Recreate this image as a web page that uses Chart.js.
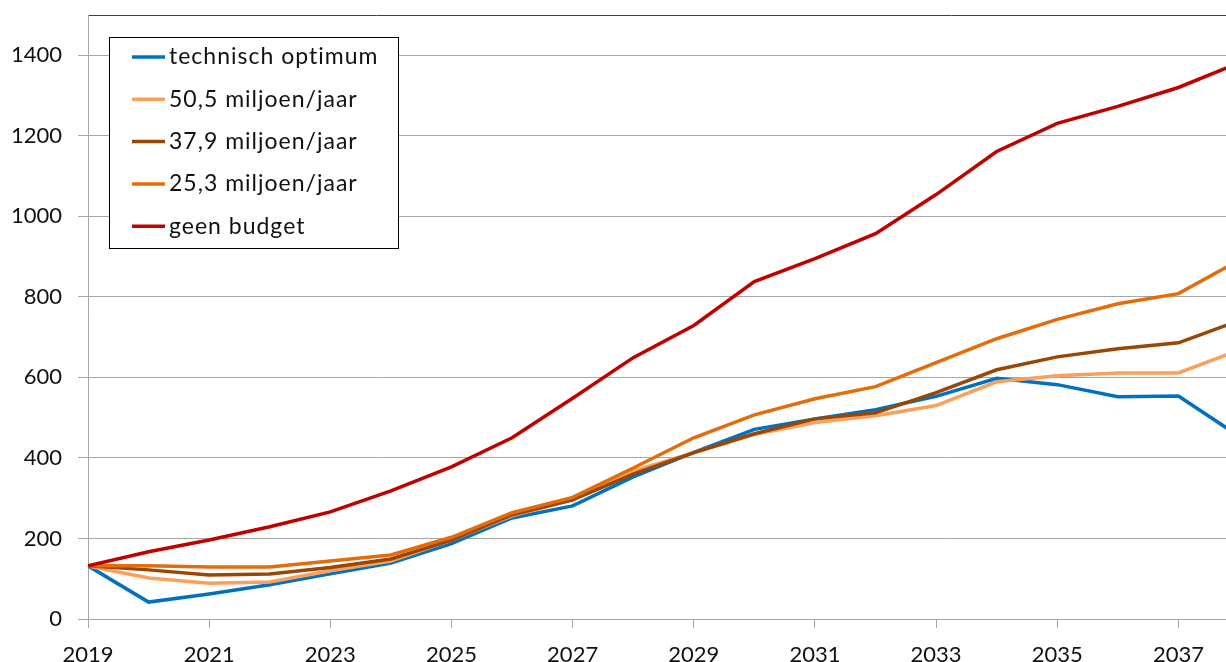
<!DOCTYPE html>
<html>
<head>
<meta charset="utf-8">
<script src="https://cdn.jsdelivr.net/npm/chart.js@4.4.0/dist/chart.umd.min.js"></script>
<style>
	html, body { margin: 0; padding: 0; background: #fff; overflow: hidden; }
	#wrap { position: absolute; left: 0; top: 0; width: 1300px; height: 662px; }
</style>
</head>
<body>
<div id="wrap"><canvas id="chart" width="1300" height="662"></canvas></div>
<script>
// jaren op de x-as
const years = [2019, 2020, 2021, 2022, 2023, 2024, 2025, 2026, 2027, 2028, 2029, 2030, 2031, 2032, 2033, 2034, 2035, 2036, 2037, 2038];

const seriesNames = ['technisch optimum', '50,5 miljoen/jaar', '37,9 miljoen/jaar', '25,3 miljoen/jaar', 'geen budget'];
const seriesColors = ['#0070C0', '#F9A05A', '#974706', '#E46C0A', '#C00000'];

const technischOptimum = [132, 42, 62, 85, 112, 139, 187, 251, 281, 353, 414, 471, 497, 520, 553, 598, 582, 552, 554, 454];
const budget505 = [132, 102, 89, 92, 120, 144, 196, 256, 296, 368, 413, 458, 488, 505, 530, 589, 604, 611, 611, 668];
const budget379 = [132, 122, 109, 112, 128, 149, 196, 259, 296, 360, 413, 460, 497, 512, 562, 619, 651, 671, 686, 741];
const budget253 = [132, 132, 129, 129, 144, 159, 203, 264, 302, 375, 450, 507, 547, 577, 637, 696, 744, 783, 808, 891];
const geenBudget = [132, 167, 196, 229, 266, 318, 378, 450, 548, 649, 729, 838, 895, 957, 1054, 1161, 1231, 1273, 1320, 1381];

const yLabels = [0, 200, 400, 600, 800, 1000, 1200, 1400];

const FONT = 'Lato, "Open Sans", sans-serif';
const GRID = '#a6a6a6';

function makeDataset(i, values) {
	return {
		label: seriesNames[i],
		data: values.map((v, k) => ({ x: years[k], y: v })),
		borderColor: seriesColors[i],
		backgroundColor: seriesColors[i],
		borderWidth: 3.5,
		pointRadius: 0,
		tension: 0,
		order: 5 - i,
	};
}

// legenda in een kader binnen de grafiek
const boxLegend = {
	id: 'boxLegend',
	afterDatasetsDraw(chart) {
		const ctx = chart.ctx;
		const x = 109.5, y = 37.5, w = 289, h = 211;
		ctx.save();
		ctx.fillStyle = '#fff';
		ctx.fillRect(x, y, w, h);
		ctx.strokeStyle = '#000';
		ctx.lineWidth = 1;
		ctx.strokeRect(x, y, w, h);
		ctx.font = '23px ' + FONT;
		ctx.letterSpacing = '1px';
		ctx.textBaseline = 'middle';
		chart.data.datasets.forEach((ds, i) => {
			let cy = 57 + i * 42.3;
			ctx.strokeStyle = ds.borderColor;
			ctx.lineWidth = 3.5;
			ctx.beginPath();
			ctx.moveTo(132, cy);
			ctx.lineTo(165, cy);
			ctx.stroke();
			ctx.fillStyle = '#111';
			ctx.fillText(ds.label, 169, cy);
		});
		ctx.restore();
	}
};

new Chart(document.getElementById('chart'), {
	type: 'line',
	data: {
		datasets: [
			makeDataset(0, technischOptimum),
			makeDataset(1, budget505),
			makeDataset(2, budget379),
			makeDataset(3, budget253),
			makeDataset(4, geenBudget),
		]
	},
	options: {
		responsive: false,
		animation: false,
		layout: { autoPadding: false, padding: { top: 15, right: 61, left: 0, bottom: 0 } },
		plugins: {
			legend: { display: false },
			tooltip: { enabled: false },
		},
		scales: {
			x: {
				type: 'linear',
				min: 2019,
				max: 2038,
				afterBuildTicks: (scale) => {
					scale.ticks = years.filter((yr) => (yr - 2019) % 2 === 0 && yr < 2038).map((yr) => ({ value: yr }));
				},
				afterFit: (scale) => {
					scale.height = 43;
					scale.paddingLeft = 0;
					scale.paddingRight = 0;
				},
				grid: {
					drawOnChartArea: false,
					drawTicks: true,
					tickLength: 9,
					tickColor: GRID,
				},
				border: { color: GRID, width: 1 },
				ticks: {
					autoSkip: false,
					maxRotation: 0,
					padding: 14,
					color: '#111',
					font: { family: FONT, size: 22 },
					callback: (v) => String(v),
				},
			},
			y: {
				min: 0,
				max: 1500,
				afterBuildTicks: (scale) => {
					scale.ticks = yLabels.concat([1500]).map((v) => ({ value: v }));
				},
				afterFit: (scale) => {
					scale.width = 88;
					scale.paddingTop = 0;
					scale.paddingBottom = 0;
				},
				grid: {
					tickLength: 10,
					color: (c) => c.tick && c.tick.value === 1500 ? '#404040' : GRID,
					tickColor: (c) => c.tick && c.tick.value === 1500 ? 'rgba(0,0,0,0)' : GRID,
				},
				border: { color: GRID, width: 1 },
				ticks: {
					padding: 16,
					color: '#111',
					font: { family: FONT, size: 22 },
					callback: (v) => v === 1500 ? '' : String(v),
				},
			},
		},
	},
	plugins: [boxLegend],
});
</script>
</body>
</html>
